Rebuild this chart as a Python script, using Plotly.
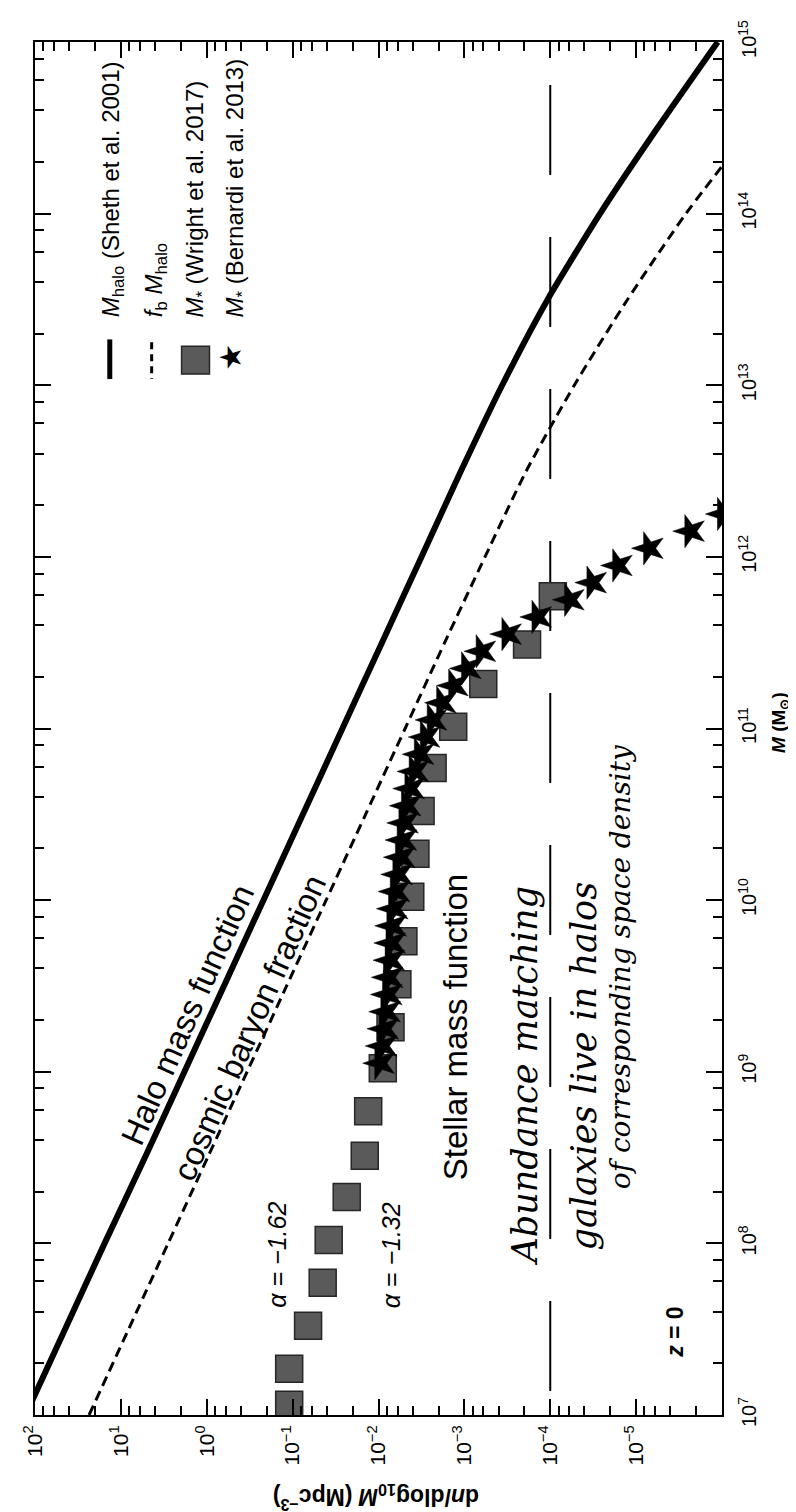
import plotly.graph_objects as go
import numpy as np

# ---------------- data ----------------
# Halo mass function (Sheth et al. 2001): log10 M, log10 dn/dlog10M
halo_logM = [7.0, 7.5, 8.0, 8.5, 9.0, 9.5, 10.0, 10.5, 11.0, 11.5, 12.0, 12.5, 13.0, 13.5, 14.0, 14.5, 15.0]
halo_logn = [2.11, 1.65, 1.19, 0.72, 0.26, -0.20, -0.66, -1.12, -1.58, -2.04, -2.50, -2.96, -3.44, -3.97, -4.58, -5.25, -5.95]

# f_b * M_halo (cosmic baryon fraction)
bary_logM = [7.0, 7.5, 8.0, 8.5, 9.0, 9.5, 10.0, 10.5, 11.0, 11.5, 12.0, 12.5, 13.0, 13.5, 14.0, 14.5]
bary_logn = [1.37, 0.91, 0.45, -0.01, -0.47, -0.93, -1.39, -1.85, -2.31, -2.77, -3.24, -3.72, -4.28, -4.90, -5.58, -6.35]

# Stellar mass function, Wright et al. 2017 (squares)
wright_logM = [7.06, 7.27, 7.52, 7.77, 8.02, 8.27, 8.51, 8.77, 9.02, 9.26, 9.51, 9.76,
               10.02, 10.27, 10.52, 10.77, 11.01, 11.26, 11.49, 11.77]
wright_logn = [-0.96, -0.96, -1.18, -1.35, -1.42, -1.63, -1.84, -1.88, -2.05, -2.14, -2.22, -2.29,
               -2.37, -2.43, -2.49, -2.63, -2.87, -3.22, -3.73, -4.03]

# Stellar mass function, Bernardi et al. 2013 (stars)
bern_logM = [9.05, 9.15, 9.25, 9.35, 9.45, 9.55, 9.65, 9.75, 9.85, 9.95,
             10.05, 10.15, 10.25, 10.35, 10.45, 10.55, 10.65, 10.75, 10.85, 10.95,
             11.05, 11.15, 11.25, 11.35, 11.45, 11.55, 11.65, 11.75, 11.85, 11.95,
             12.05, 12.15, 12.25]
bern_logn = [-2.02, -2.05, -2.07, -2.09, -2.11, -2.12, -2.14, -2.15, -2.16, -2.18,
             -2.20, -2.23, -2.26, -2.28, -2.30, -2.33, -2.37, -2.42, -2.48, -2.55,
             -2.63, -2.74, -2.88, -3.03, -3.20, -3.50, -3.85, -4.23, -4.49, -4.79,
             -5.15, -5.63, -6.01]

# abundance-matching reference density (long-dashed line)
match_density = [1e-4, 1e-4]
match_mass = [1e7, 1e15]

# axes ticks
n_major_exp = [2, 1, 0, -1, -2, -3, -4, -5]
m_major_exp = [7, 8, 9, 10, 11, 12, 13, 14, 15]
minor_mant = [2, 4, 6, 8]

# ---------------- layout geometry ----------------
W, H = 796, 1512
L, R, T, B = 25, 714, 22, 1407


def P(xp, yp):
    return dict(x=(xp - L) / (R - L), y=(B - yp) / (B - T), xref="paper", yref="paper")


FONT = "Liberation Sans, Arial, sans-serif"
HAND = "DejaVu Serif, serif"


def sup(e):
    s = str(e).replace("-", "\u2212")
    return f"10<sup>{s}</sup>"


fig = go.Figure()

fig.add_trace(go.Scatter(
    x=10 ** np.array(halo_logn), y=10 ** np.array(halo_logM), mode="lines",
    line=dict(color="black", width=6, shape="spline", smoothing=0.6),
    showlegend=False, hoverinfo="skip"))

fig.add_trace(go.Scatter(
    x=10 ** np.array(bary_logn), y=10 ** np.array(bary_logM), mode="lines",
    line=dict(color="black", width=3, dash="10px,6px", shape="spline", smoothing=0.6),
    showlegend=False, hoverinfo="skip"))

fig.add_trace(go.Scatter(
    x=match_density, y=match_mass, mode="lines",
    line=dict(color="black", width=2, dash="0px,24px,90px,38px"),
    showlegend=False, hoverinfo="skip"))

fig.add_trace(go.Scatter(
    x=10 ** np.array(wright_logn), y=10 ** np.array(wright_logM), mode="markers",
    marker=dict(symbol="square", size=27, color="#5a5a5a", line=dict(color="#262626", width=1.5)),
    showlegend=False, hoverinfo="skip"))

fig.add_trace(go.Scatter(
    x=10 ** np.array(bern_logn), y=10 ** np.array(bern_logM), mode="markers",
    marker=dict(symbol="star", size=25, angle=-90, color="black", line=dict(color="black", width=0.5)),
    showlegend=False, hoverinfo="skip"))

# ---------------- axes ----------------
x_minor = [m * 10.0 ** e for e in range(-6, 2) for m in minor_mant]
y_minor = [m * 10.0 ** e for e in range(7, 15) for m in minor_mant]

fig.update_xaxes(
    type="log", range=[2, -6], showgrid=False, zeroline=False,
    showline=True, linecolor="black", linewidth=2, mirror="ticks",
    ticks="inside", ticklen=16, tickwidth=1.8, tickcolor="black",
    tickvals=[10.0 ** e for e in n_major_exp], ticktext=[sup(e) for e in n_major_exp],
    tickangle=-90, tickfont=dict(family=FONT, size=21, color="black"),
    ticklabeloverflow="allow",
    minor=dict(tickvals=x_minor, ticks="inside", ticklen=9, tickwidth=1.5, tickcolor="black"),
)
fig.update_yaxes(
    type="log", range=[7, 15], side="right", showgrid=False, zeroline=False,
    showline=True, linecolor="black", linewidth=2, mirror="ticks",
    ticks="inside", ticklen=16, tickwidth=1.8, tickcolor="black",
    tickvals=[10.0 ** e for e in m_major_exp], ticktext=[sup(e) for e in m_major_exp],
    tickangle=-90, tickfont=dict(family=FONT, size=20, color="black"),
    ticklabelstandoff=8, ticklabeloverflow="allow",
    minor=dict(tickvals=y_minor, ticks="inside", ticklen=9, tickwidth=1.5, tickcolor="black"),
)

ann = []


def add_text(text, xp, yp, angle, size, family=FONT, **kw):
    d = P(xp, yp)
    d.update(text=text, textangle=angle, showarrow=False,
             font=dict(family=family, size=size, color="black"),
             xanchor=kw.pop("xanchor", "center"), yanchor=kw.pop("yanchor", "middle"))
    d.update(kw)
    ann.append(d)


# axis titles
add_text("<b>d<i>n</i>/dlog<sub>10</sub><i>M</i> (Mpc<sup>\u22123</sup>)</b>", 367, 1490, 180, 23)
add_text("<b><i>M</i> (M<sub>\u2299</sub>)</b>", 772, 708, -90, 19)

# curve labels
add_text("Halo mass function", 178, 1003, -66, 33)
add_text("cosmic baryon fraction", 240, 1016, -66, 33)
add_text("Stellar mass function", 447, 1016, -90, 33)
add_text("<i>\u03b1 = \u22121.62</i>", 268, 1245, -90, 25)
add_text("<i>\u03b1 = \u22121.32</i>", 382, 1246, -90, 25)
add_text("<b><i>z</i> = 0</b>", 667, 1323, -90, 23)

# handwritten notes
add_text("<i>Abundance matching</i>", 516, 1065, -90, 35, family=HAND)
add_text("<i>galaxies live in halos</i>", 576, 1055, -90, 35, family=HAND)
add_text("<i>of corresponding space density</i>", 613, 955, -90, 28, family=HAND)

# legend
add_text("<i>M</i><sub>halo</sub> (Sheth et al. 2001)", 103, 302, -90, 24, yanchor="bottom")
add_text("<i>f</i><sub>b</sub> <i>M</i><sub>halo</sub>", 146, 302, -90, 24, yanchor="bottom")
add_text("<i>M</i><sub>*</sub> (Wright et al. 2017)", 187, 302, -90, 24, yanchor="bottom")
add_text("<i>M</i><sub>*</sub> (Bernardi et al. 2013)", 227, 302, -90, 24, yanchor="bottom")
add_text("\u2605", 221, 340, -90, 30, family="DejaVu Sans")

shapes = []
p1, p2 = P(100, 322), P(100, 362)
shapes.append(dict(type="line", xref="paper", yref="paper", x0=p1["x"], x1=p2["x"], y0=p1["y"], y1=p2["y"],
                   line=dict(color="black", width=5)))
p1, p2 = P(142, 325), P(142, 362)
shapes.append(dict(type="line", xref="paper", yref="paper", x0=p1["x"], x1=p2["x"], y0=p1["y"], y1=p2["y"],
                   line=dict(color="black", width=3, dash="7px,5px")))
p1, p2 = P(172, 329), P(200, 357)
shapes.append(dict(type="rect", xref="paper", yref="paper", x0=p1["x"], x1=p2["x"], y0=p1["y"], y1=p2["y"],
                   fillcolor="#5a5a5a", line=dict(color="#262626", width=1.5)))
for s in shapes:
    fig.add_shape(**s)

fig.update_layout(
    width=W, height=H, margin=dict(l=L, r=W - R, t=T, b=H - B),
    paper_bgcolor="white", plot_bgcolor="white",
    annotations=ann, showlegend=False,
)

fig.write_html("out.html")
